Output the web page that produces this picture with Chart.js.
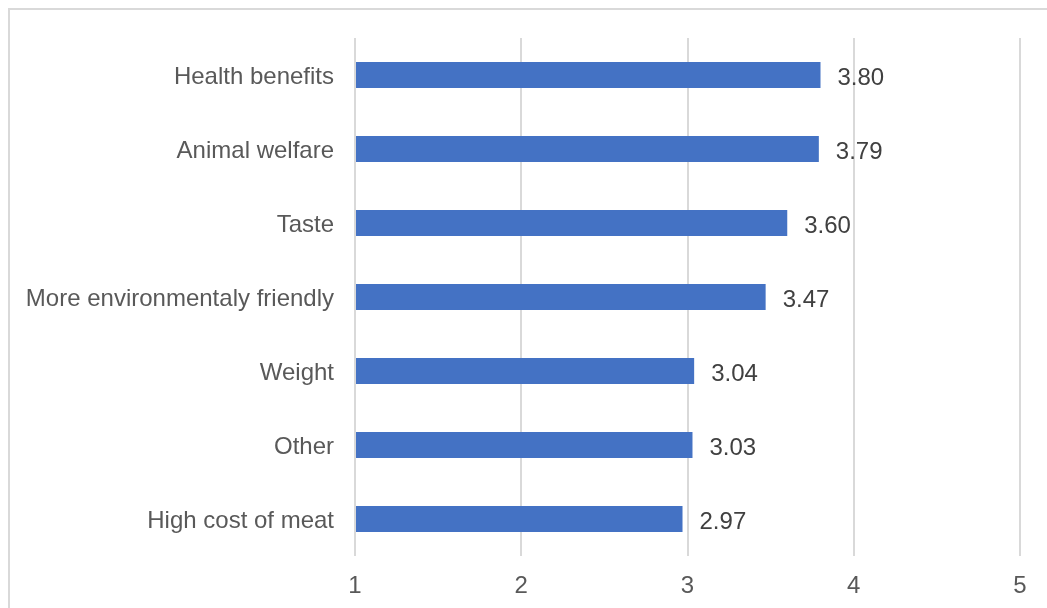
<!DOCTYPE html>
<html lang="en">
  <head>
    <meta charset="utf-8" />
    <title>Reasons for reducing meat</title>
    <script src="https://cdn.jsdelivr.net/npm/chart.js/dist/chart.umd.min.js"></script>
    <style>
      * {
        margin: 0;
        padding: 0;
      }
      body {
        width: 1047px;
        height: 608px;
        overflow: hidden;
        background: #fff;
        position: relative;
      }
      .frame {
        position: absolute;
        left: 8px;
        top: 8px;
        width: 1060px;
        height: 620px;
        border: 2px solid #d9d9d9;
      }
      .chartBox {
        position: absolute;
        left: 0;
        top: 0;
        width: 1047px;
        height: 608px;
      }
    </style>
  </head>
  <body>
    <div class="frame"></div>
    <div class="chartBox">
      <canvas id="myChart"></canvas>
    </div>

    <script>
      const categories = [
        "Health benefits",
        "Animal welfare",
        "Taste",
        "More environmentaly friendly",
        "Weight",
        "Other",
        "High cost of meat",
      ];
      const scores = [3.8, 3.79, 3.6, 3.47, 3.04, 3.03, 2.97];
      const xTicks = [1, 2, 3, 4, 5];

      const FONT = "Arial, 'Liberation Sans', sans-serif";

      // value labels to the right of each bar
      const barLabels = {
        id: "barLabels",
        afterDatasetsDraw(chart) {
          const { ctx } = chart;
          const meta = chart.getDatasetMeta(0);
          ctx.save();
          ctx.fillStyle = "#404040";
          ctx.font = `24px ${FONT}`;
          ctx.textAlign = "left";
          ctx.textBaseline = "middle";
          meta.data.forEach((bar, i) => {
            ctx.fillText(scores[i].toFixed(2), bar.x + 17, bar.y + 3);
          });
          ctx.restore();
        },
      };

      const config = {
        type: "bar",
        data: {
          labels: categories,
          datasets: [
            {
              data: scores,
              backgroundColor: "#4472C4",
              barPercentage: 0.35,
              categoryPercentage: 1,
              base: 1,
            },
          ],
        },
        options: {
          indexAxis: "y",
          responsive: false,
          animation: false,
          layout: {
            padding: { left: 0, top: 38, right: 27, bottom: 0 },
          },
          plugins: {
            legend: { display: false },
            tooltip: { enabled: false },
          },
          scales: {
            x: {
              min: xTicks[0],
              max: xTicks[xTicks.length - 1],
              afterBuildTicks(scale) {
                scale.ticks = xTicks.map((v) => ({ value: v }));
              },
              afterFit(scale) {
                scale.height = 52;
              },
              grid: {
                color: "#d9d9d9",
                lineWidth: 2,
                drawTicks: false,
              },
              border: { display: false },
              ticks: {
                color: "#595959",
                font: { size: 24, family: FONT },
                padding: 16,
              },
            },
            y: {
              afterFit(scale) {
                scale.width = 355;
              },
              grid: { display: false, drawTicks: false },
              border: { display: false },
              ticks: {
                color: "#595959",
                font: { size: 24, family: FONT },
                padding: 21,
                labelOffset: 2,
              },
            },
          },
        },
        plugins: [barLabels],
      };

      const canvas = document.getElementById("myChart");
      canvas.width = 1047;
      canvas.height = 608;
      const myChart = new Chart(canvas, config);
    </script>
  </body>
</html>
